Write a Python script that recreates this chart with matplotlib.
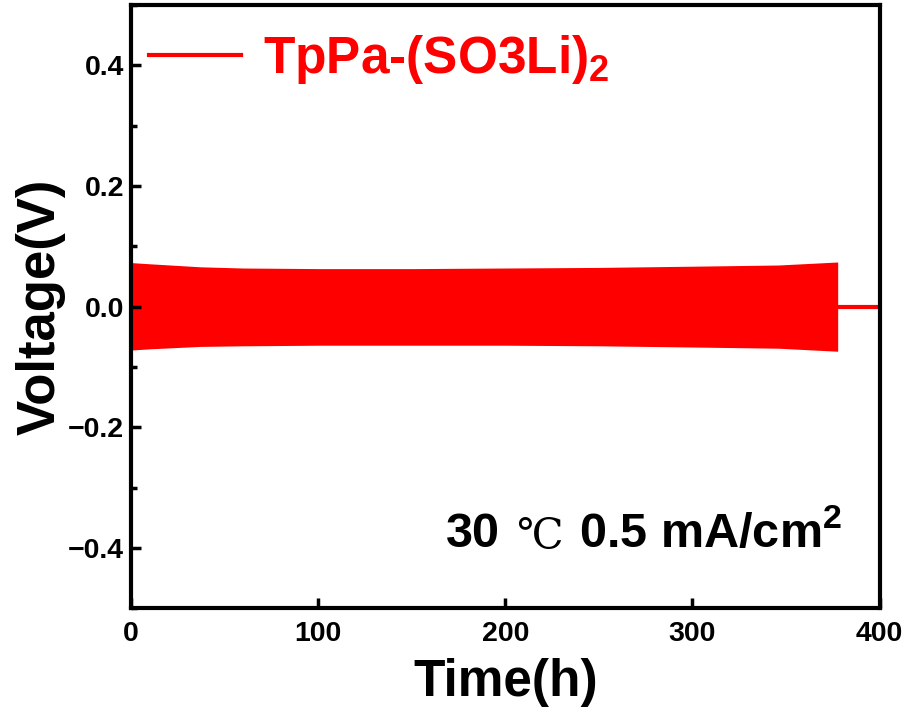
import matplotlib
matplotlib.use("Agg")
import matplotlib.pyplot as plt
from matplotlib.ticker import MultipleLocator

# envelope of the dense galvanostatic cycling band
cycle_time_h = [0, 10, 37, 60, 101, 150, 200, 250, 300, 346, 377.6]
upper_v = [0.073, 0.071, 0.066, 0.064, 0.063, 0.063, 0.064, 0.065, 0.067, 0.069, 0.074]
lower_v = [-0.072, -0.070, -0.066, -0.065, -0.064, -0.064, -0.064, -0.065, -0.067, -0.069, -0.074]

# flat tail after cycling stops
tail_time_h = [377.6, 400]
tail_v = [0.0, 0.0]

series_label = "TpPa-(SO3Li)$_\\mathbf{2}$"
x_ticks = [0, 100, 200, 300, 400]
y_ticks = [-0.4, -0.2, 0.0, 0.2, 0.4]

RED = "#ff0000"

plt.rcParams["font.family"] = ["Liberation Sans", "DejaVu Sans"]
plt.rcParams["font.weight"] = "bold"
plt.rcParams["mathtext.fontset"] = "custom"
plt.rcParams["mathtext.rm"] = "Liberation Sans:bold"
plt.rcParams["mathtext.bf"] = "Liberation Sans:bold"
plt.rcParams["mathtext.it"] = "Liberation Sans:bold"
plt.rcParams["mathtext.default"] = "bf"

fig = plt.figure(figsize=(9.04, 7.24), dpi=100)
ax = fig.add_axes([0.145, 0.160, 0.828, 0.833])

ax.fill_between(cycle_time_h, lower_v, upper_v, color=RED, linewidth=0)
ax.plot(cycle_time_h[:1], [0], color=RED, linewidth=3, label=series_label)
ax.plot(tail_time_h, tail_v, color=RED, linewidth=3)

ax.set_xlim(0, 400)
ax.set_ylim(-0.5, 0.5)
ax.set_xticks(x_ticks)
ax.set_xticklabels([str(v) for v in x_ticks], fontsize=20.5, fontweight="bold")
ax.set_yticks(y_ticks)
ax.set_yticklabels([f"{v:.1f}".replace("-", "\u2212") for v in y_ticks],
                   fontsize=20.5, fontweight="bold")
ax.yaxis.set_minor_locator(MultipleLocator(0.1))

for side in ax.spines.values():
    side.set_linewidth(3)

ax.tick_params(axis="x", which="major", direction="in", length=7, width=2.5, pad=9)
ax.tick_params(axis="y", which="major", direction="in", length=7, width=2.5, pad=5)
ax.tick_params(axis="y", which="minor", direction="in", length=4, width=2.5)

ax.set_xlabel("Time(h)", fontsize=37, fontweight="bold", labelpad=8)
ax.set_ylabel("Voltage(V)", fontsize=38, fontweight="bold", labelpad=2)

leg = ax.legend(loc="upper left", bbox_to_anchor=(0.017, 0.962), frameon=False,
                handlelength=1.8, handletextpad=0.42, borderpad=0.1,
                borderaxespad=0.0,
                prop={"family": "Liberation Sans", "weight": "bold", "size": 37})
for txt in leg.get_texts():
    txt.set_color(RED)

t1 = ax.text(0.42, 0.101, "30", transform=ax.transAxes, fontsize=35,
             fontweight="bold", ha="left", va="baseline")
t2 = ax.annotate("\u2103", xy=(1, 0), xycoords=t1, xytext=(12, 0),
                 textcoords="offset points", fontsize=30, fontweight="normal",
                 family=["DejaVu Serif", "Noto Sans CJK SC"], va="bottom")
ax.annotate("0.5 mA/cm$^\\mathbf{2}$", xy=(1, 0), xycoords=t2, xytext=(12, 0),
            textcoords="offset points", fontsize=35, fontweight="bold",
            va="bottom")

fig.savefig("out.png", dpi=100)
